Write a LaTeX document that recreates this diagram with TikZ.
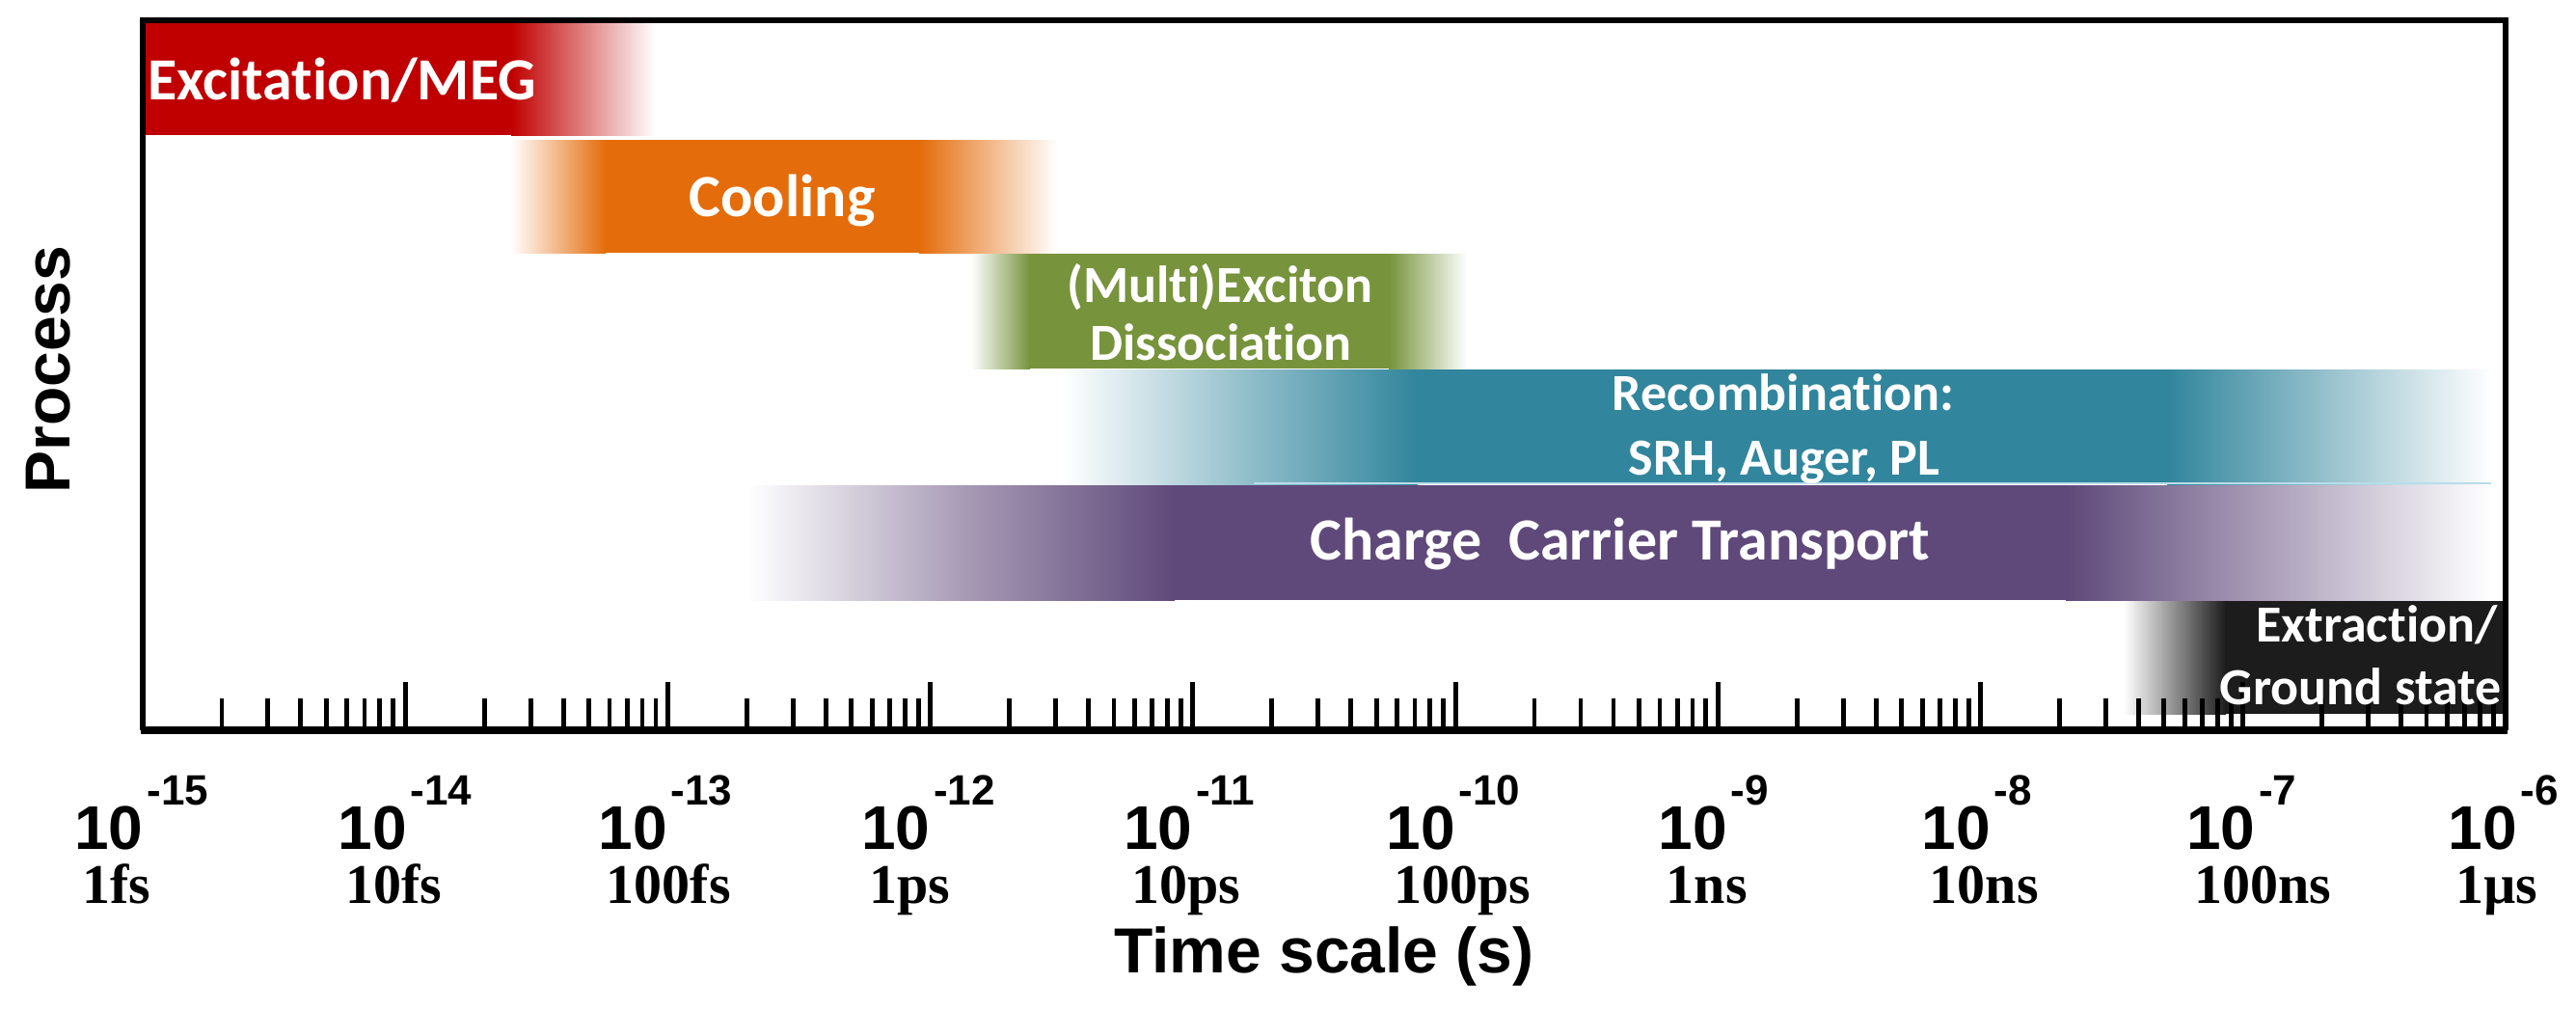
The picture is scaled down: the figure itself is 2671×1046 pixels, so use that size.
\documentclass[tikz,border=0pt]{standalone}
\usepackage{fontspec}
\setmainfont{Liberation Serif}
\newfontfamily\barfont[Ligatures=NoCommon]{Carlito}
\newfontfamily\arialfont{Liberation Sans}
\newfontfamily\timesfont{Liberation Serif}
\definecolor{exred}{RGB}{192,0,0}
\definecolor{coolor}{RGB}{228,108,10}
\definecolor{disgreen}{RGB}{119,147,60}
\definecolor{recteal}{RGB}{49,133,156}
\definecolor{trpurple}{RGB}{95,73,122}
\definecolor{extblack}{RGB}{28,28,28}
\definecolor{tealedge}{RGB}{185,220,235}
\tikzset{
  bigtxt/.style={font=\barfont\bfseries\fontsize{31}{31}\selectfont, text=white, inner sep=0pt},
  smalltxt/.style={font=\barfont\bfseries\fontsize{27}{27}\selectfont, text=white, inner sep=0pt},
  decfont/.style={font=\arialfont\bfseries\fontsize{32}{32}\selectfont, inner sep=0pt},
  supfont/.style={font=\arialfont\bfseries\fontsize{22}{22}\selectfont, inner sep=0pt},
  unitfont/.style={font=\timesfont\bfseries\fontsize{29}{29}\selectfont, inner sep=0pt},
  titlefont/.style={font=\arialfont\bfseries\fontsize{33}{33}\selectfont, inner sep=0pt},
  framestyle/.style={line width=2.8pt, line cap=butt},
  axisstyle/.style={line width=3.6pt, line cap=butt},
  majortick/.style={line width=2.4pt, line cap=butt},
  minortick/.style={line width=2.4pt, line cap=butt},
}
\begin{document}
\begin{tikzpicture}[x=0.5pt,y=-0.5pt]
\useasboundingbox (0,0) rectangle (2671,1046);
% Excitation / MEG (red)
\fill[exred] (148,23) rectangle (531,140);
\shade[left color=exred, right color=white] (530,23) rectangle (679,140);
% Cooling (orange)
\shade[left color=white, right color=coolor] (530,145) rectangle (628,262);
\fill[coolor] (627,145) rectangle (954,262);
\shade[left color=coolor, right color=white] (953,145) rectangle (1096,262);
% Dissociation (green)
\shade[left color=white, right color=disgreen] (1007,263) rectangle (1068,382);
\fill[disgreen] (1067,263) rectangle (1441,382);
\shade[left color=disgreen, right color=white] (1440,263) rectangle (1521,382);
% Recombination (teal)
\shade[left color=white, right color=recteal!55] (1102,383) rectangle (1300,502);
\shade[left color=recteal!55, right color=recteal] (1299,383) rectangle (1470,502);
\fill[recteal] (1469,383) rectangle (2248,502);
\shade[left color=recteal, right color=white] (2247,383) rectangle (2583,502);
\draw[tealedge, line width=1pt] (1300,501) -- (2583,501);
% Charge carrier transport (purple)
\shade[left color=white, right color=trpurple!55] (775,503) rectangle (1000,622);
\shade[left color=trpurple!55, right color=trpurple] (999,503) rectangle (1218,622);
\fill[trpurple] (1217,503) rectangle (2143,622);
\shade[left color=trpurple, right color=white] (2142,503) rectangle (2583,622);
% Extraction (black)
\shade[left color=white, right color=extblack] (2202,623) rectangle (2308,740);
\fill[extblack] (2307,623) rectangle (2598,740);
% frame and axis
\draw[framestyle] (148,757) -- (148,21) -- (2598,21) -- (2598,757);
\draw[axisstyle] (146,757) -- (2600,757);
\foreach \d in {0,...,9} {
  \draw[majortick] ({148+272.22*\d},757) -- ++(0,-50);
}
\foreach \d in {0,...,8} {
  \foreach \l in {0.30103,0.47712,0.60206,0.69897,0.77815,0.84510,0.90309,0.95424} {
    \draw[minortick] ({148+272.22*(\d+\l)},757) -- ++(0,-33);
  }
}
% bar texts
\node[bigtxt, anchor=base west] (exc) at (153,103) {Excitation/MEG};
\node[bigtxt, anchor=base] (cool) at (811,224) {Cooling};
\node[smalltxt, anchor=base] (dis1) at (1265,313) {(Multi)Exciton};
\node[smalltxt, anchor=base] (dis2) at (1266,373) {Dissociation};
\node[smalltxt, anchor=base] (rec1) at (1849,425) {Recombination:};
\node[smalltxt, anchor=base] (rec2) at (1850,492) {SRH, Auger, PL};
\node[bigtxt, anchor=base] (trans) at (1680,580) {Charge\ \ Carrier Transport};
\node[smalltxt, anchor=base east] (ext1) at (2590,665) {Extraction/};
\node[smalltxt, anchor=base east] (ext2) at (2594,730) {Ground state};
% axis labels
\foreach \d/\o/\e/\u in {0/1/15/1fs, 1/2/14/10fs, 2/0/13/100fs, 3/0/12/1ps, 4/0/11/10ps, 5/0/10/100ps, 6/10/9/1ns, 7/11/8/10ns, 8/13/7/100ns, 9/12/6/1µs} {
  \node[decfont, anchor=base east] (dec\d) at ({148+272.22*\d+\o},880) {10};
  \node[supfont, anchor=base west] (sup\d) at ([shift={(1.5pt,23pt)}]dec\d.base east) {-\e};
  \node[unitfont, anchor=base west] (unit\d) at ([shift={(4pt,-28pt)}]dec\d.base west) {\u};
}
\node[titlefont, anchor=base] (xlab) at (1373,1008) {Time scale (s)};
\node[titlefont, rotate=90, anchor=base] (ylab) at (72,383) {Process};
\end{tikzpicture}
\end{document}
